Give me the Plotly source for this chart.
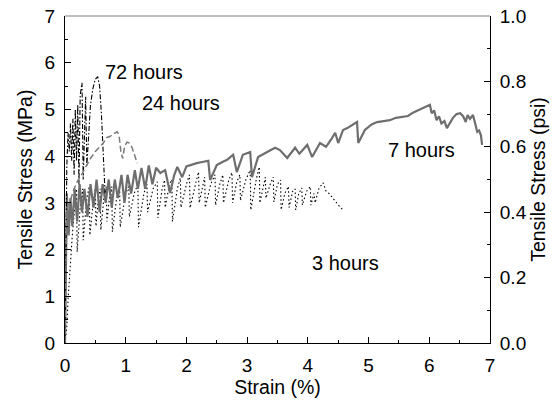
import plotly.graph_objects as go

# 7 hours (solid gray)
x7 = [0, 0.01, 0.03, 0.06, 0.09, 0.12, 0.16, 0.2, 0.24, 0.28,
      0.32, 0.37, 0.42, 0.47, 0.52, 0.57, 0.62, 0.67, 0.72, 0.77,
      0.82, 0.87, 0.93, 0.98, 1.03, 1.09, 1.15, 1.2, 1.26, 1.32,
      1.38, 1.44, 1.5, 1.57, 1.65, 1.73, 1.8, 1.85, 1.93, 2.0,
      2.06, 2.17, 2.28, 2.36, 2.39, 2.5, 2.6, 2.67, 2.77, 2.83,
      2.93, 3.05, 3.08, 3.18, 3.33, 3.46, 3.54, 3.66, 3.79, 3.86,
      3.99, 4.07, 4.2, 4.3, 4.4, 4.45, 4.5, 4.58, 4.65, 4.72,
      4.81, 4.83, 4.94, 5.05, 5.14, 5.25, 5.35, 5.45, 5.57, 5.65,
      5.73, 5.82, 5.9, 6.01, 6.04, 6.08, 6.12, 6.16, 6.2, 6.25,
      6.29, 6.35, 6.39, 6.45, 6.51, 6.56, 6.6, 6.63, 6.67, 6.72,
      6.76, 6.79, 6.82, 6.85, 6.87]
y7 = [0, 1.8, 3.2, 2.3, 3.1, 2.5, 3.3, 2.6, 3.4, 2.8,
      3.3, 2.7, 3.4, 2.9, 3.5, 2.8, 3.4, 3.0, 3.5, 2.9,
      3.5, 3.1, 3.6, 3.0, 3.6, 3.2, 3.7, 3.3, 3.75, 3.3,
      3.8, 3.4, 3.75, 3.64, 3.7, 3.21, 3.6, 3.77, 3.55, 3.78,
      3.81, 3.85, 3.88, 3.9, 3.49, 3.81, 3.88, 3.92, 4.03, 3.66,
      4.03, 4.09, 3.55, 3.98, 4.09, 4.18, 4.13, 3.96, 4.18, 4.05,
      4.24, 3.98, 4.28, 4.2, 4.39, 4.5, 4.28, 4.56, 4.6, 4.65,
      4.73, 4.28, 4.56, 4.68, 4.73, 4.75, 4.77, 4.82, 4.84, 4.86,
      4.93, 4.98, 5.03, 5.1, 4.92, 4.98, 4.77, 4.85, 4.7, 4.75,
      4.6, 4.75, 4.82, 4.9, 4.92, 4.85, 4.73, 4.88, 4.8, 4.88,
      4.7, 4.52, 4.55, 4.45, 4.24]

# 24 hours (dashed gray)
x24 = [0, 0.01, 0.03, 0.06, 0.1, 0.15, 0.2, 0.27, 0.35, 0.42,
       0.5, 0.57, 0.63, 0.69, 0.74, 0.8, 0.86, 0.89, 0.92, 0.95,
       0.98, 1.02, 1.06, 1.1, 1.15, 1.19]
y24 = [0, 1.5, 2.8, 3.0, 3.1, 3.3, 3.45, 3.6, 3.8, 3.95,
       4.1, 4.2, 4.28, 4.4, 4.42, 4.48, 4.52, 4.45, 4.1, 3.95,
       4.2, 4.3, 4.28, 4.2, 4.03, 3.85]

# 72 hours (dash-dot black)
x72 = [0, 0.01, 0.03, 0.05, 0.07, 0.09, 0.11, 0.13, 0.15, 0.17,
       0.19, 0.21, 0.23, 0.25, 0.28, 0.3, 0.32, 0.34, 0.36, 0.39,
       0.42, 0.46, 0.5, 0.54, 0.57, 0.6, 0.62, 0.64, 0.66]
y72 = [0, 2.0, 3.8, 4.5, 4.1, 4.7, 3.9, 4.8, 3.6, 5.0,
       3.9, 5.1, 3.4, 5.3, 5.57, 3.5, 4.6, 5.27, 3.8, 4.6,
       5.1, 5.45, 5.65, 5.7, 5.5, 4.9, 4.2, 3.6, 3.2]

# 3 hours (dotted black)
x3 = [0, 0.03, 0.05, 0.08, 0.12, 0.16, 0.19, 0.2, 0.25, 0.29,
      0.3, 0.36, 0.4, 0.41, 0.47, 0.5, 0.51, 0.55, 0.58, 0.59,
      0.64, 0.68, 0.69, 0.74, 0.77, 0.78, 0.85, 0.9, 0.91, 1.0,
      1.05, 1.06, 1.14, 1.2, 1.21, 1.3, 1.35, 1.36, 1.45, 1.52,
      1.53, 1.6, 1.64, 1.65, 1.72, 1.76, 1.77, 1.85, 1.9, 1.91,
      2.0, 2.05, 2.06, 2.15, 2.2, 2.21, 2.27, 2.3, 2.31, 2.4,
      2.47, 2.48, 2.55, 2.6, 2.61, 2.7, 2.75, 2.76, 2.83, 2.88,
      2.89, 2.98, 3.05, 3.06, 3.15, 3.2, 3.21, 3.27, 3.3, 3.31,
      3.38, 3.43, 3.44, 3.5, 3.55, 3.56, 3.62, 3.68, 3.69, 3.75,
      3.79, 3.8, 3.85, 3.9, 3.91, 3.98, 4.04, 4.05, 4.1, 4.12,
      4.18, 4.25, 4.3, 4.35, 4.41, 4.47, 4.53, 4.58]
y3 = [0, 0.34, 0.92, 1.63, 2.3, 2.9, 3.3, 1.95, 2.9, 3.3,
      2.2, 3.1, 3.35, 2.31, 3.1, 3.3, 2.5, 3.1, 3.3, 2.42,
      3.1, 3.35, 2.6, 3.2, 3.35, 2.38, 3.1, 3.3, 2.48, 3.2,
      3.35, 2.7, 3.2, 3.4, 2.48, 3.2, 3.4, 2.8, 3.3, 3.45,
      2.68, 3.3, 3.49, 2.9, 3.4, 3.5, 2.6, 3.3, 3.53, 2.9,
      3.4, 3.6, 2.89, 3.4, 3.66, 3.0, 3.4, 3.55, 2.9, 3.4,
      3.6, 2.95, 3.4, 3.6, 3.0, 3.5, 3.65, 3.0, 3.45, 3.6,
      3.05, 3.5, 3.7, 2.85, 3.5, 3.77, 3.0, 3.4, 3.55, 3.1,
      3.4, 3.55, 3.02, 3.4, 3.49, 2.85, 3.2, 3.35, 2.9, 3.25,
      3.3, 2.85, 3.2, 3.32, 2.95, 3.25, 3.35, 2.95, 3.2, 3.0,
      3.3, 3.43, 3.25, 3.2, 3.1, 3.0, 2.91, 2.85]

x_ticks = [0, 1, 2, 3, 4, 5, 6, 7]
y_ticks = [0, 1, 2, 3, 4, 5, 6, 7]
y2_ticks = [0.0, 0.2, 0.4, 0.6, 0.8, 1.0]

labels = ["72 hours", "24 hours", "7 hours", "3 hours"]
label_x = [0.63, 1.23, 5.28, 4.04]
label_y = [5.80, 5.14, 4.13, 1.71]

FONT = "Liberation Sans, Arial, sans-serif"

fig = go.Figure()
fig.add_trace(go.Scatter(x=x3, y=y3, mode="lines",
                         line=dict(color="black", width=1.1, dash="1.5px,2.5px")))
fig.add_trace(go.Scatter(x=x7, y=y7, mode="lines",
                         line=dict(color="#6e6e6e", width=2.2)))
fig.add_trace(go.Scatter(x=x72, y=y72, mode="lines",
                         line=dict(color="black", width=1.1, dash="5px,2px,1.5px,2px")))
fig.add_trace(go.Scatter(x=x24, y=y24, mode="lines",
                         line=dict(color="#7a7a7a", width=1.5, dash="6px,3px")))
fig.add_trace(go.Scatter(x=[], y=[], yaxis="y2", mode="lines", showlegend=False))

for t, xx, yy in zip(labels, label_x, label_y):
    fig.add_annotation(x=xx, y=yy, text=t, showarrow=False, xanchor="left",
                       yanchor="middle", font=dict(size=20, color="black", family=FONT))

axis_common = dict(showline=True, linecolor="black", linewidth=1, ticks="inside",
                   ticklen=6, tickcolor="black", showgrid=False, zeroline=False,
                   ticklabelstandoff=5, automargin=False,
                   tickfont=dict(size=19, color="black", family=FONT))

fig.update_layout(
    width=555, height=400,
    margin=dict(l=65, r=65, t=16, b=57),
    plot_bgcolor="white", paper_bgcolor="white",
    showlegend=False,
    font=dict(family=FONT, color="black"),
    xaxis=dict(range=[0, 7], tickvals=x_ticks,
               minor=dict(ticks="inside", ticklen=3, dtick=0.5, tickcolor="black"),
               title=dict(text="Strain (%)", font=dict(size=19.5), standoff=2),
               **axis_common),
    yaxis=dict(range=[0, 7], tickvals=y_ticks,
               minor=dict(ticks="inside", ticklen=3, dtick=0.5, tickcolor="black"),
               title=dict(text="Tensile Stress (MPa)", font=dict(size=19.5), standoff=6),
               **axis_common),
    yaxis2=dict(range=[0, 1], tickvals=y2_ticks, tickformat=".1f", overlaying="y",
                side="right", anchor="x",
                minor=dict(ticks="inside", ticklen=3, dtick=0.1, tickcolor="black"),
                title=dict(text="Tensile Stress (psi)", font=dict(size=19.5), standoff=2),
                **axis_common),
    shapes=[dict(type="line", xref="paper", yref="paper", x0=0, x1=1, y0=1, y1=1,
                 line=dict(color="#808080", width=1))],
)

fig.write_html("out.html")
